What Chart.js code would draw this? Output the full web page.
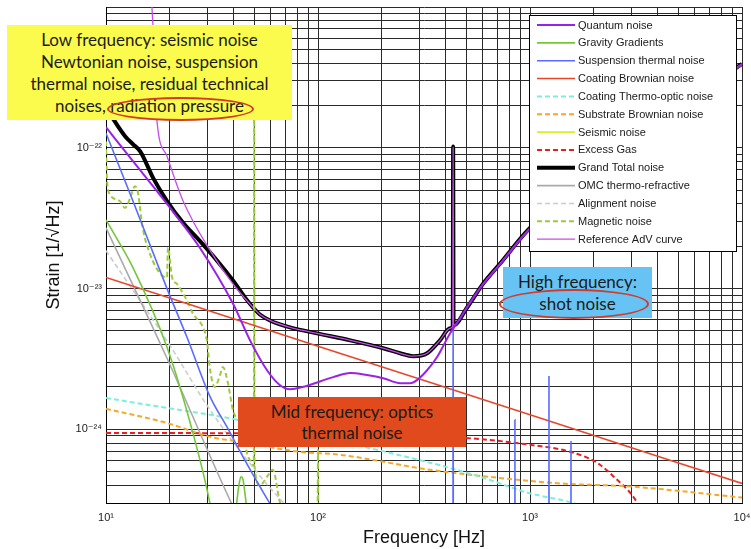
<!DOCTYPE html>
<html><head><meta charset="utf-8">
<script src="https://cdn.jsdelivr.net/npm/chart.js@4.4.0/dist/chart.umd.min.js"></script>
<style>
html,body{margin:0;padding:0;background:#fff;}
#wrap{position:relative;width:751px;height:549px;overflow:hidden;}
canvas{position:absolute;left:0;top:0;}
.note{position:absolute;box-sizing:border-box;text-align:center;font-family:Lato,"Open Sans",sans-serif;color:#1b1b1b;white-space:nowrap;}
.ell{position:absolute;box-sizing:border-box;border:2px solid #d23a2a;border-radius:50%;}
</style></head>
<body><div id="wrap"><canvas id="c" width="751" height="549"></canvas>
<div class="note" style="left:7px;top:25px;width:285px;height:95px;background:#fbfb4e;padding-top:4px;font-size:17px;line-height:22px;">Low frequency: seismic noise<br>Newtonian noise, suspension<br>thermal noise, residual technical<br>noises, radiation pressure</div>
<div class="ell" style="left:107px;top:97px;width:147px;height:24px;"></div>
<div class="note" style="left:503px;top:267px;width:149px;height:51px;background:#67c3f3;padding-top:4px;font-size:17px;line-height:22px;">High frequency:<br>shot noise</div>
<div class="ell" style="left:499px;top:289px;width:150px;height:30px;"></div>
<div class="note" style="left:238px;top:397px;width:228px;height:50px;background:#e04a1c;padding-top:4px;font-size:17px;line-height:21px;">Mid frequency: optics<br>thermal noise</div>
</div>
<script>
// ---- data (frequency [Hz], strain [1/sqrt(Hz)]) ----
const xRange = [10, 1e4];
const yRange = [3e-25, 1e-21];
const xTickValues = [10, 100, 1000, 10000];
const xTickLabels = ['10¹', '10²', '10³', '10⁴'];
const yTickValues = [1e-24, 1e-23, 1e-22];
const yTickLabels = ['10⁻²⁴', '10⁻²³', '10⁻²²'];

const seriesNames = ['Quantum noise','Gravity Gradients','Suspension thermal noise','Coating Brownian noise',
  'Coating Thermo-optic noise','Substrate Brownian noise','Seismic noise','Excess Gas','Grand Total noise',
  'OMC thermo-refractive','Alignment noise','Magnetic noise','Reference AdV curve'];

const quantumNoise = [[10,1.40e-22],[13.4,8.03e-23],[19.4,3.99e-23],[27.7,1.95e-23],[39.7,7.83e-24],[47.8,4.29e-24],
  [57.5,2.63e-24],[66.2,2.06e-24],[73.8,1.93e-24],[84.6,2.00e-24],[118,2.35e-24],[142,2.51e-24],[170,2.43e-24],
  [203,2.31e-24],[244,2.13e-24],[272,2.13e-24],[293,2.24e-24],[327,2.63e-24],[364,3.25e-24],[420,4.81e-24],
  [468,6.14e-24],[521,7.96e-24],[600,1.07e-23],[721,1.48e-23],[979,2.57e-23],[1386,4.12e-23],[2138,7.05e-23],
  [3681,1.31e-22],[6339,2.39e-22],[10000,3.89e-22]];
const gravityGradients = [[10,3.07e-23],[13.4,1.41e-23],[19.4,3.83e-24],[25.7,9.44e-25],[31.0,2.93e-25],[32,2.2e-25],
  [36,null],[41.0,2.7e-25],[42.4,4.05e-25],[43.3,4.61e-25],[44.3,4.40e-25],[45.3,3.44e-25],[46.2,2.7e-25]];
const suspensionThermal = [[10,1.27e-22],[13.4,4.19e-23],[19.4,1.0e-23],[24.1,4.51e-24],[31.0,1.70e-24],[37.2,1.04e-24],
  [44.3,6.39e-25],[53.2,3.93e-25],[60.7,2.83e-25],[100,1.2e-25],[433,4e-26],[434,5.3e-24],[435,4e-26],
  [848,2.5e-26],[849,1.17e-24],[850,2.5e-26],[1228,2e-26],[1229,2.39e-24],[1230,2e-26],
  [1560,1.8e-26],[1561,8.17e-25],[1562,1.8e-26],[10000,1e-26]];
const coatingBrownian = [[10,1.20e-23],[100,3.90e-24],[1000,1.27e-24],[10000,4.13e-25]];
const coatingThermoOptic = [[10,1.67e-24],[19.4,1.42e-24],[37.2,1.21e-24],[337,5.80e-25],[581,4.61e-25],
  [968,3.56e-25],[1667,2.93e-25],[2500,2.2e-25]];
const substrateBrownian = [[10,1.40e-24],[19.4,1.11e-24],[31.0,8.85e-25],[42.9,8.16e-25],[82.2,6.93e-25],[127,6.60e-25],
  [337,5.17e-25],[699,4.54e-25],[1432,4.12e-25],[2965,3.93e-25],[10000,3.28e-25]];
const seismicNoise = [[10,3e-20],[11,6e-21],[12,1.5e-21]];
const excessGas = [[10,9.44e-25],[82,9.3e-25],[483,8.71e-25],[1000,7.77e-25],[1545,6.93e-25],[2070,5.80e-25],
  [2570,4.40e-25],[2965,3.56e-25],[3487,2.49e-25]];
const grandTotal = [[10,1.96e-22],[11.0,1.54e-22],[12.3,1.21e-22],[13.4,1.06e-22],[14.5,9.44e-23],[16.7,6.09e-23],
  [19.4,4.19e-23],[23.1,2.93e-23],[27.7,2.18e-23],[33.4,1.58e-23],[39.7,1.14e-23],[45.3,8.63e-24],[49.4,7.34e-24],
  [53.2,6.55e-24],[59.4,5.94e-24],[73.8,5.30e-24],[98.9,4.81e-24],[142,4.29e-24],[203,3.77e-24],[244,3.47e-24],
  [281,3.31e-24],[327,3.47e-24],[376,4.29e-24],[420,5.22e-24],[432,5.4e-24],[434,1.02e-22],[436,5.5e-24],
  [505,7.34e-24],[600,1.08e-23],[721,1.50e-23],[979,2.61e-23],[1386,4.19e-23],[2138,7.16e-23],[3681,1.33e-22],
  [6339,2.43e-22],[10000,3.95e-22]];
const omcThermoRefractive = [[10,2.70e-23],[19.4,3.20e-24],[39.3,2.93e-25],[42,2.4e-25]];
const alignmentNoise = [[10,1.86e-23],[20,3.96e-24],[31.0,1.37e-24],[55.0,4.40e-25],[69.8,2.93e-25]];
const magneticNoise = [[10,1.11e-22],[10.1,6.09e-23],[10.4,4.69e-23],[11.6,4.19e-23],[12.3,3.74e-23],[13.0,4.40e-23],
  [13.7,5.34e-23],[14.1,4.93e-23],[14.9,2.70e-23],[16.1,1.77e-23],[18.0,1.28e-23],[19.4,1.20e-23],[19.6,1.95e-23],
  [20.5,1.20e-23],[21.6,1.08e-23],[24.1,8.22e-24],[25.7,6.65e-24],[28.7,5.30e-24],[29.9,4.29e-24],[31.0,2.63e-24],
  [32.6,2.00e-24],[34.5,2.43e-24],[35.6,2.77e-24],[37.6,2.13e-24],[39.7,1.37e-24],[44.3,9.91e-25],[46.2,6.82e-25],
  [48.3,5.89e-25],[49.8,5.5e-25],[50,4e-22],[50.2,5.5e-25],[53.2,4.0e-25],[57.5,4.61e-25],[61.2,5.17e-25],
  [66.2,3.03e-25],[73.8,2.3e-25],[99.5,2e-25],[100,7.16e-25],[100.5,2e-25],[200,1e-25]];
const referenceAdV = [[16.3,1.5e-21],[16.5,9.5e-22],[16.8,5.66e-22],[17.0,2.95e-22],[17.4,1.54e-22],[19.4,8.71e-23],
  [23.1,4.19e-23],[31.0,1.86e-23],[39.7,1.08e-23],[49.4,7.34e-24],[53.2,6.55e-24],[59.4,5.94e-24],[73.8,5.30e-24],
  [98.9,4.81e-24],[142,4.29e-24],[203,3.77e-24],[244,3.47e-24],[281,3.31e-24],[327,3.47e-24],[376,4.29e-24],
  [420,5.22e-24],[432,5.4e-24],[434,1.02e-22],[436,5.5e-24],[505,7.34e-24],[600,1.08e-23],[721,1.50e-23],
  [979,2.61e-23],[1386,4.19e-23],[2138,7.16e-23],[3681,1.33e-22],[6339,2.43e-22],[10000,3.95e-22]];

const seriesData = [quantumNoise, gravityGradients, suspensionThermal, coatingBrownian, coatingThermoOptic,
  substrateBrownian, seismicNoise, excessGas, grandTotal, omcThermoRefractive, alignmentNoise, magneticNoise, referenceAdV];

// ---- styles ----
const styles = [
  {c:'#9a22e6', w:2},
  {c:'#72c83a', w:1.6},
  {c:'#5a6cff', w:1.6},
  {c:'#e8472c', w:1.6},
  {c:'#7eeedc', w:2, d:[5,3]},
  {c:'#f5a92a', w:2, d:[5,3]},
  {c:'#d8ec30', w:1.6},
  {c:'#e42020', w:2, d:[5,3]},
  {c:'#000000', w:4, order:10},
  {c:'#aaaaaa', w:1.6},
  {c:'#cccccc', w:1.6, d:[5,3]},
  {c:'#9ccc3c', w:2, d:[5,3]},
  {c:'#c64ee8', w:1.3}
];

const datasets = seriesNames.map((name, i) => ({
  label: name,
  data: seriesData[i].map(p => ({x: p[0], y: p[1]})),
  borderColor: styles[i].c,
  backgroundColor: styles[i].c,
  borderWidth: styles[i].w,
  borderDash: styles[i].d || [],
  order: styles[i].order || 0,
  pointRadius: 0,
  fill: false,
  cubicInterpolationMode: 'monotone',
  spanGaps: false
}));

function logTicks(scale) {
  const lo = Math.floor(Math.log10(scale.min) + 1e-9), hi = Math.ceil(Math.log10(scale.max) - 1e-9);
  const t = [];
  for (let e = lo; e <= hi; e++) {
    for (let m = 1; m <= 9; m++) {
      const v = Number(m + 'e' + e);
      if (v >= scale.min * (1 - 1e-9) && v <= scale.max * (1 + 1e-9)) t.push({value: v});
    }
  }
  scale.ticks = t;
}
function labelFor(vals, labels) {
  return function(value) {
    for (let i = 0; i < vals.length; i++) {
      if (Math.abs(Math.log10(value) - Math.log10(vals[i])) < 1e-6) return labels[i];
    }
    return '';
  };
}

const legendPlugin = {
  id: 'boxLegend',
  afterDraw(chart) {
    const ctx = chart.ctx;
    ctx.save();
    ctx.fillStyle = '#fff';
    ctx.fillRect(529.5, 15.5, 207, 236);
    ctx.strokeStyle = '#000'; ctx.lineWidth = 1; ctx.setLineDash([]);
    ctx.strokeRect(529.5, 15.5, 207, 236);
    chart.data.datasets.forEach((ds, i) => {
      const y = 25 + i * 17.85;
      ctx.beginPath();
      ctx.setLineDash(ds.borderDash || []);
      ctx.strokeStyle = ds.borderColor;
      ctx.lineWidth = ds.borderWidth;
      ctx.moveTo(537, y); ctx.lineTo(575, y); ctx.stroke();
      ctx.setLineDash([]);
      ctx.fillStyle = '#1a1a1a';
      ctx.font = '11px "Liberation Sans", Arial, sans-serif';
      ctx.textBaseline = 'middle';
      ctx.textAlign = 'left';
      ctx.fillText(ds.label, 578, y + 0.5);
    });
    ctx.restore();
  }
};

const gridStyle = {color: '#2a2a2a', lineWidth: 1, drawTicks: false};
new Chart(document.getElementById('c'), {
  type: 'line',
  data: {datasets},
  plugins: [legendPlugin],
  options: {
    responsive: false, animation: false, devicePixelRatio: 1,
    layout: {padding: {top: 7, right: 9, left: 0, bottom: 0}},
    plugins: {legend: {display: false}, tooltip: {enabled: false}},
    scales: {
      x: {
        type: 'logarithmic', min: xRange[0], max: xRange[1],
        afterBuildTicks: logTicks,
        afterFit: s => { s.height = 46; s.paddingLeft = 0; s.paddingRight = 0; },
        grid: gridStyle,
        border: {display: true, color: '#000', width: 1},
        ticks: {autoSkip: false, maxRotation: 0, padding: 8, color: '#222',
          font: {family: '"Liberation Sans", "DejaVu Sans", sans-serif', size: 11},
          callback: labelFor(xTickValues, xTickLabels)},
        title: {display: true, text: 'Frequency [Hz]', color: '#111',
          font: {family: '"Liberation Sans", Arial, sans-serif', size: 18}, padding: {top: 0, bottom: 0}}
      },
      y: {
        type: 'logarithmic', min: yRange[0], max: yRange[1],
        afterBuildTicks: logTicks,
        afterFit: s => { s.width = 106; s.paddingTop = 0; s.paddingBottom = 0; },
        grid: gridStyle,
        border: {display: true, color: '#000', width: 1},
        ticks: {autoSkip: false, padding: 4, color: '#222',
          font: {family: '"Liberation Sans", "DejaVu Sans", sans-serif', size: 11},
          callback: labelFor(yTickValues, yTickLabels)},
        title: {display: true, text: 'Strain [1/√Hz]', color: '#111',
          font: {family: '"Liberation Sans", Arial, sans-serif', size: 18}, padding: {top: 43, bottom: 0}}
      }
    }
  }
});
</script>
</body></html>
